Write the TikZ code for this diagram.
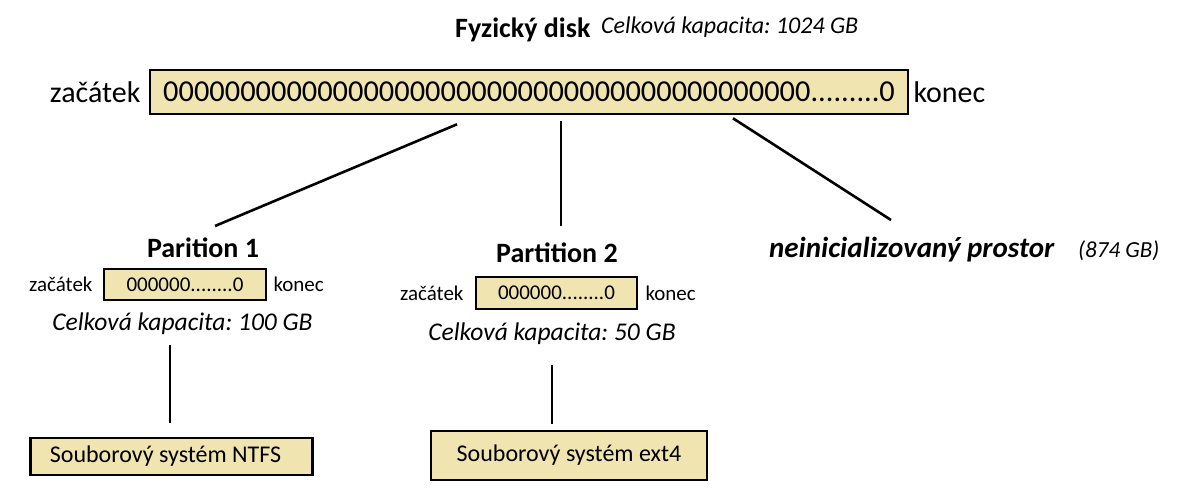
\documentclass[tikz,border=0pt]{standalone}
\usepackage{fontspec}
\setmainfont{Carlito}
\frenchspacing
\usetikzlibrary{positioning,calc}
\definecolor{diskTan}{RGB}{240,228,176}
\tikzset{
  disk/.style={draw, line width=2.6pt, fill=diskTan, inner sep=0pt, font=\fontsize{30.4}{36}\selectfont},
  part/.style={draw, line width=2.6pt, fill=diskTan, inner sep=0pt, font=\fontsize{21}{25}\selectfont},
  fsys/.style={draw, line width=2.6pt, fill=diskTan, inner sep=0pt, font=\fontsize{24}{29}\selectfont},
  head/.style={inner sep=0pt, anchor=base, font=\bfseries\fontsize{28}{34}\selectfont},
  capacity/.style={inner sep=0pt, anchor=base, font=\itshape\fontsize{25.5}{30}\selectfont},
  bigside/.style={inner sep=0pt, font=\fontsize{30}{36}\selectfont},
  side/.style={inner sep=0pt, font=\fontsize{21}{25}\selectfont},
  link/.style={line width=2.6pt}
}
\newcommand{\zeros}{000000000000000000000000000000000000000000}

\begin{document}
\begin{tikzpicture}[x=1pt,y=-1pt]
  \useasboundingbox (0,0) rectangle (1191,500);

  % physical disk
  \node[head, anchor=base west] (title) at (455,38) {Fyzický disk};
  \node[capacity, anchor=base west, font=\itshape\fontsize{24}{29}\selectfont] (total) at (601,34) {Celková kapacita: 1024 GB};
  \node[disk, minimum width=758pt, minimum height=44pt] (disk) at (529,92) {\zeros.........0};
  \node[bigside, left=8pt of disk] (start) {začátek};
  \node[bigside, right=4pt of disk] (end) {konec};

  % partition 1
  \node[head] (p1) at (203,257) {Parition 1};
  \node[part, minimum width=162pt, minimum height=31pt] (p1box) at (185,284.5) {000000........0};
  \node[side, left=10pt of p1box] (p1start) {začátek};
  \node[side, right=6pt of p1box] (p1end) {konec};
  \node[capacity] (p1cap) at (182.5,330) {Celková kapacita: 100 GB};
  \node[fsys, minimum width=282pt, minimum height=37pt] (fs1) at (171.5,456.5) {Souborový systém NTFS\hspace*{12pt}};

  % partition 2
  \node[head] (p2) at (557,262) {Partition 2};
  \node[part, minimum width=161pt, minimum height=32pt] (p2box) at (556.5,293) {000000........0};
  \node[side, left=11pt of p2box] (p2start) {začátek};
  \node[side, right=7pt of p2box] (p2end) {konec};
  \node[capacity] (p2cap) at (552,340) {Celková kapacita: 50 GB};
  \node[fsys, minimum width=276pt, minimum height=49pt] (fs2) at (569,455.5) {Souborový systém ext4};

  % free space
  \node[head, anchor=base west, font=\bfseries\itshape\fontsize{29}{34}\selectfont] (free) at (769,257) {neinicializovaný prostor};
  \node[capacity, anchor=base west, font=\itshape\fontsize{23}{28}\selectfont] (freesize) at (1078,257) {(874 GB)};

  \draw[link] ($(disk.south)+(-72,9)$) -- ($(p1.base)+(12,-31)$);
  \draw[link] ($(disk.south)+(32,6)$) -- ($(p2.base)+(4,-36)$);
  \draw[link] ($(disk.south)+(204,3)$) -- ($(free.base west)+(122,-37)$);
  \draw[link] ($(p1cap.base)+(-12.5,15)$) -- ($(fs1.north)+(-1.5,-14)$);
  \draw[link] ($(p2cap.base)+(0,25)$) -- ($(fs2.north)+(-17,-6)$);
\end{tikzpicture}
\end{document}
